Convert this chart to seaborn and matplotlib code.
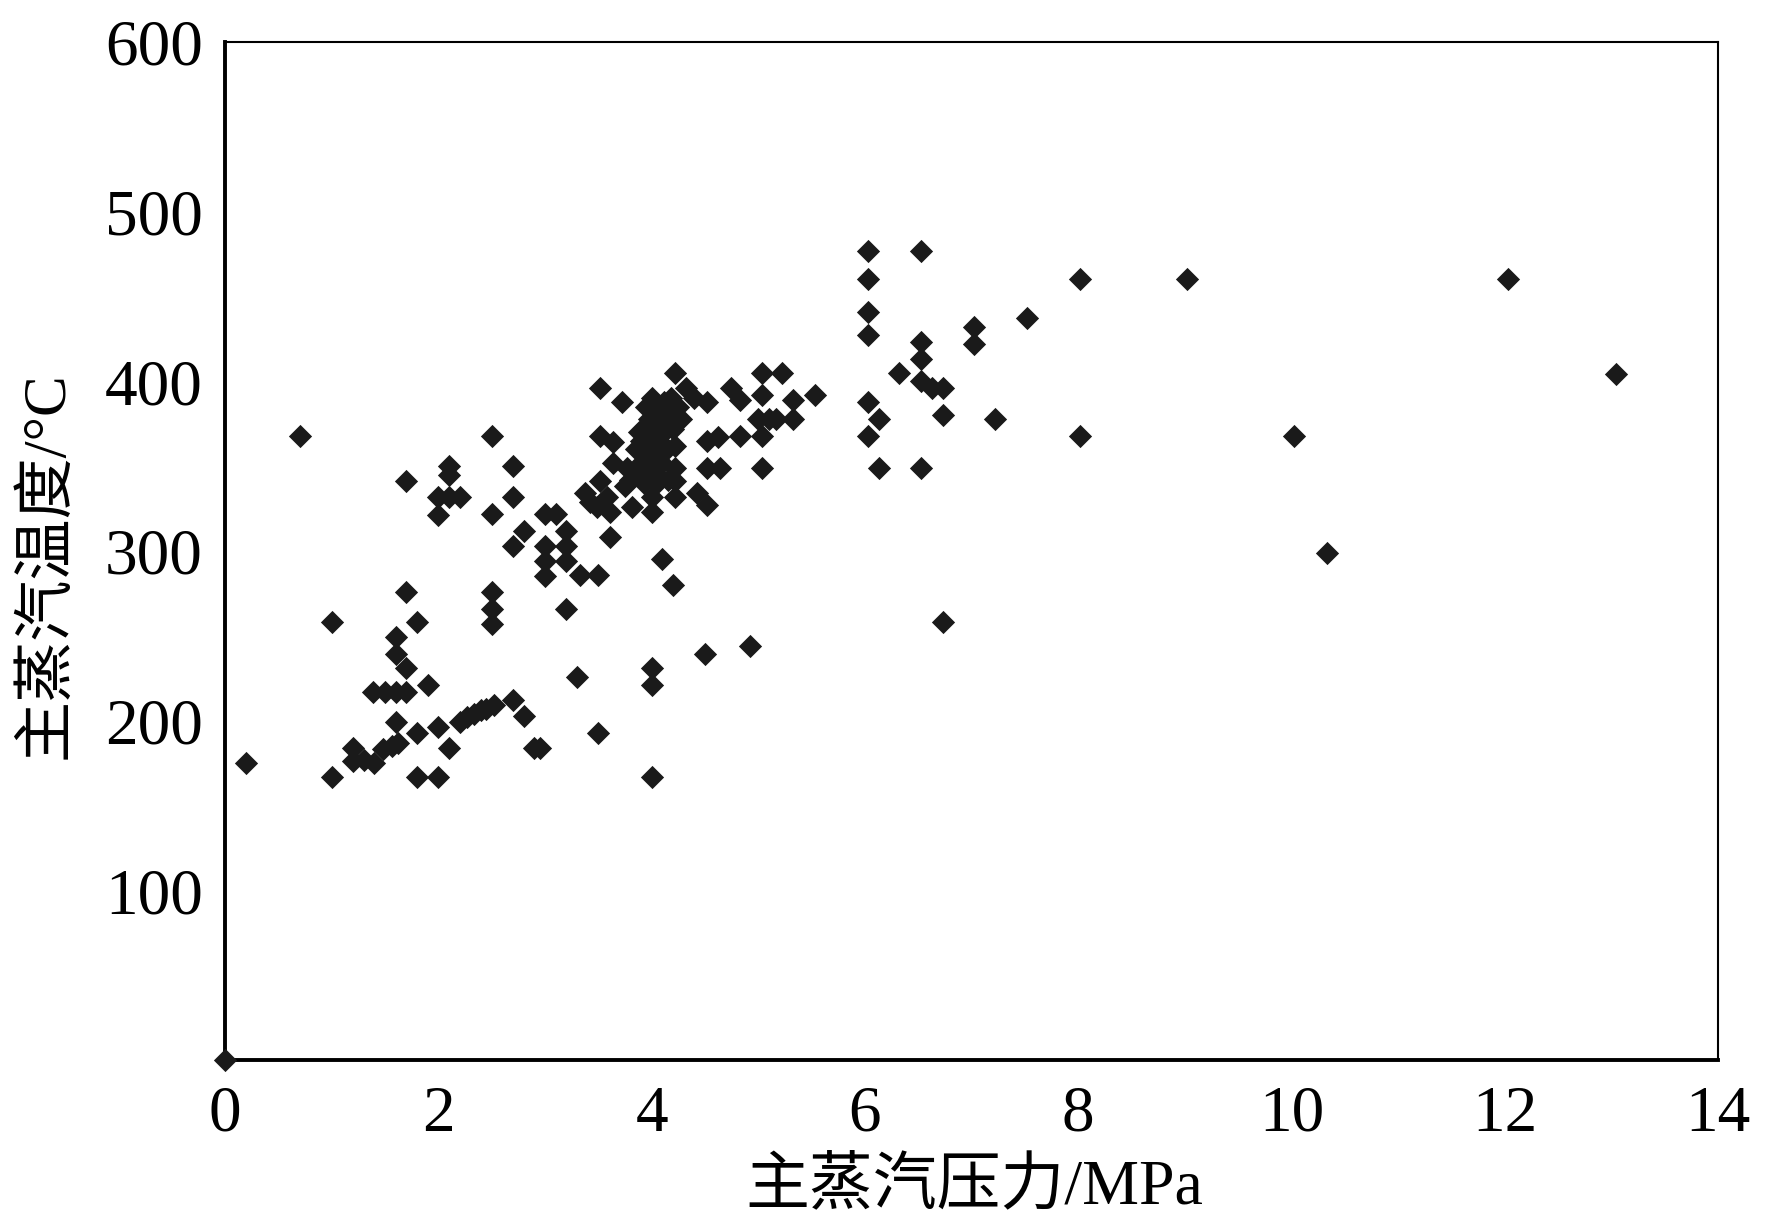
"""
Scatter of main steam pressure vs main steam temperature.
"""

import pandas as pd
import matplotlib
matplotlib.use("Agg")
import matplotlib.pyplot as plt
import seaborn as sns

# main steam pressure, MPa
pressure = [
    0.0, 0.2, 0.7, 1.0, 1.0, 1.2, 1.2, 1.3, 1.4, 1.48, 1.57, 1.62,
    1.39, 1.5, 1.6, 1.7, 1.6, 1.6, 1.6, 1.7, 1.7, 1.7, 1.8, 1.8, 1.8, 1.9,
    2.0, 2.0, 2.0, 2.0, 2.1, 2.1, 2.1, 2.2, 2.1,
    2.2, 2.27, 2.33, 2.4, 2.45, 2.52,
    2.5, 2.5, 2.5, 2.5, 2.5, 2.7, 2.7, 2.7, 2.7, 2.8, 2.8, 2.9, 2.95,
    3.0, 3.1, 3.0, 3.0, 3.0, 3.2, 3.2, 3.2, 3.2, 3.33, 3.5, 3.3, 3.5,
    3.38, 3.49, 3.42, 3.58, 3.61, 3.52, 3.61, 3.52, 3.72, 3.52, 3.64,
    3.64, 3.77, 3.89, 3.82, 4.0, 4.0, 4.0, 4.0, 4.0, 4.1, 4.2,
    4.22, 4.32, 4.52, 4.22, 4.22, 4.22, 4.43, 4.52, 4.5, 4.4,
    4.52, 4.62, 4.52, 4.64, 4.74, 4.83, 4.83, 4.92,
    5.04, 5.22, 5.04, 5.33, 5.04, 5.04, 5.0, 5.17, 5.33, 5.1, 5.53,
    6.03, 6.03, 6.03, 6.03, 6.03, 6.03, 6.13, 6.13, 6.32,
    6.53, 6.53, 6.53, 6.53, 6.53, 6.63, 6.73, 6.73, 6.73,
    7.02, 7.02, 7.22, 7.52, 8.02, 8.02, 9.02, 10.02, 10.33, 12.03, 13.04,
    # dense cluster near 4 MPa
    3.85, 3.9, 3.9, 3.92, 3.95, 3.97, 3.98, 4.0, 4.0, 4.02, 4.03, 4.05,
    4.05, 4.07, 4.08, 4.1, 4.1, 4.12, 4.14, 4.15, 4.18, 4.2, 4.22, 4.25,
    4.28, 3.8, 3.75, 4.05, 4.15, 3.95, 4.0, 3.88, 4.12, 4.08, 3.93,
]

# main steam temperature, degC
temperature = [
    0, 175, 368, 258, 167, 184, 176, 177, 175, 183, 185, 187,
    217, 217, 217, 217, 199, 249, 239, 231, 276, 341, 258, 193, 167, 221,
    196, 167, 321, 332, 350, 345, 332, 332, 184,
    199, 202, 204, 206, 207, 209,
    368, 322, 276, 266, 257, 350, 332, 303, 212, 203, 312, 184, 184,
    322, 322, 303, 294, 285, 312, 303, 294, 266, 286, 286, 226, 193,
    334, 326, 329, 332, 323, 341, 308, 396, 388, 368, 364,
    352, 349, 348, 326, 332, 323, 231, 221, 167, 295, 280,
    405, 396, 388, 349, 341, 332, 334, 327, 239, 390,
    365, 367, 349, 349, 396, 389, 368, 244,
    405, 405, 392, 389, 368, 349, 378, 378, 378, 378, 392,
    477, 460, 441, 427, 388, 368, 378, 349, 405,
    477, 423, 413, 400, 349, 396, 396, 380, 258,
    432, 422, 378, 437, 460, 368, 460, 368, 299, 460, 404,
    360, 352, 365, 372, 345, 358, 378, 350, 365, 383, 372, 356,
    345, 365, 378, 385, 352, 370, 360, 380, 390, 372, 362, 385,
    378, 342, 338, 340, 342, 385, 390, 370, 388, 362, 340,
]

X_TICKS = [0, 2, 4, 6, 8, 10, 12, 14]
Y_TICKS = [100, 200, 300, 400, 500, 600]
X_LABEL = "主蒸汽压力/MPa"
Y_LABEL = "主蒸汽温度/°C"


def main():
    df = pd.DataFrame({"pressure": pressure, "temperature": temperature})

    sns.set_style("white")
    plt.rcParams["font.family"] = ["Liberation Serif", "Noto Sans CJK SC", "DejaVu Sans"]

    fig = plt.figure(figsize=(17.72, 12.32), dpi=100)
    ax = fig.add_axes([0.127, 0.1396, 0.8425, 0.8264])

    sns.scatterplot(data=df, x="pressure", y="temperature", ax=ax,
                    marker="D", s=140, color="#1a1a1a", linewidth=0,
                    clip_on=False, zorder=3)

    ax.set_xlim(0, 14)
    ax.set_ylim(0, 600)
    ax.set_xticks(X_TICKS)
    ax.set_yticks(Y_TICKS)
    ax.set_xticklabels([str(t) for t in X_TICKS])
    ax.set_yticklabels([str(t) for t in Y_TICKS])

    # heavy left/bottom axes, lighter frame on top/right
    for side in ["left", "bottom"]:
        ax.spines[side].set_linewidth(2.8)
        ax.spines[side].set_color("black")
    for side in ["top", "right"]:
        ax.spines[side].set_linewidth(1.5)
        ax.spines[side].set_color("black")

    ax.tick_params(axis="both", direction="in", length=12, width=2.2,
                   labelsize=47, colors="black")
    ax.tick_params(axis="y", pad=16)
    ax.tick_params(axis="x", pad=18)
    ax.tick_params(top=False, right=False)

    ax.set_xlabel(X_LABEL, fontsize=46, color="black")
    ax.set_ylabel(Y_LABEL, fontsize=44, color="black")
    ax.xaxis.set_label_coords(0.502, -0.096)
    ax.yaxis.set_label_coords(-0.100, 0.486)

    fig.savefig("out.png", dpi=100)
    plt.close(fig)


if __name__ == "__main__":
    main()
